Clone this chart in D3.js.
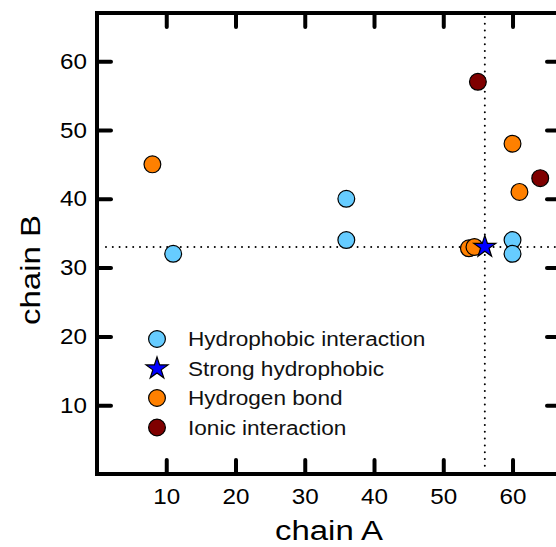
<!DOCTYPE html>
<html>
<head>
<meta charset="utf-8">
<script src="https://cdn.jsdelivr.net/npm/d3@7"></script>
<style>
  html, body { margin: 0; padding: 0; background: #fff; }
  svg { display: block; font-family: "Liberation Sans", Arial, Helvetica, sans-serif; }
</style>
</head>
<body>
<div id="chart"></div>
<script>
// values
const hydrophobicA = [11, 36, 36, 60, 60];
const hydrophobicB = [32, 40, 34, 34, 32];
const hbondA = [8, 53.7, 54.5, 60, 61];
const hbondB = [45, 32.8, 33, 48, 41];
const ionicA = [55, 64];
const ionicB = [57, 43];
const strongA = [56];
const strongB = [33];
const refLineA = 56;
const refLineB = 33;
const xTicks = [10, 20, 30, 40, 50, 60];
const yTicks = [10, 20, 30, 40, 50, 60];

const series = [
  { label: "Hydrophobic interaction", a: hydrophobicA, b: hydrophobicB, color: "#66ccff", shape: "circle" },
  { label: "Hydrogen bond", a: hbondA, b: hbondB, color: "#ff8000", shape: "circle" },
  { label: "Ionic interaction", a: ionicA, b: ionicB, color: "#7f0000", shape: "circle" },
  { label: "Strong hydrophobic", a: strongA, b: strongB, color: "#0000ff", shape: "star" }
];
const legendOrder = ["Hydrophobic interaction", "Strong hydrophobic", "Hydrogen bond", "Ionic interaction"];

const W = 556, H = 547;
const margin = { top: 13, left: 97 };
const plotW = 464, plotH = 461;

const svg = d3.select("#chart").append("svg").attr("width", W).attr("height", H);

const x = d3.scaleLinear().domain([0, 67]).range([margin.left, margin.left + plotW]);
const y = d3.scaleLinear().domain([0, 67]).range([margin.top + plotH, margin.top]);

// stretch text a bit wider than the font, like the original renderer
function widen(sel, k) {
  sel.each(function () {
    const len = this.getComputedTextLength();
    d3.select(this).attr("textLength", len * k).attr("lengthAdjust", "spacingAndGlyphs");
  });
}

// reference lines
const dots = svg.append("g").attr("stroke", "#000").attr("stroke-width", 2)
  .attr("stroke-linecap", "round").attr("stroke-dasharray", "0,6.8");
dots.append("line").attr("x1", x(refLineA)).attr("x2", x(refLineA))
  .attr("y1", y.range()[1] + 4).attr("y2", y.range()[0] - 3);
dots.append("line").attr("x1", x.range()[0] + 9).attr("x2", x.range()[1])
  .attr("y1", y(refLineB)).attr("y2", y(refLineB));

// axes
function styleAxis(g) {
  g.select(".domain").remove();
  g.selectAll(".tick line").attr("stroke", "#000").attr("stroke-width", 4).attr("stroke-linecap", "round");
  g.selectAll(".tick text").attr("fill", "#000").style("font-size", "22px");
}
svg.append("g").attr("transform", `translate(0,${y(0)})`)
  .call(d3.axisBottom(x).tickValues(xTicks).tickSizeInner(-14).tickSizeOuter(0).tickPadding(14))
  .call(styleAxis)
  .call(g => widen(g.selectAll(".tick text"), 1.1));
svg.append("g").attr("transform", `translate(${x(0)},0)`)
  .call(d3.axisLeft(y).tickValues(yTicks).tickSizeInner(-14).tickSizeOuter(0).tickPadding(10))
  .call(styleAxis)
  .call(g => widen(g.selectAll(".tick text"), 1.1));
svg.append("g").attr("transform", `translate(0,${y(67)})`)
  .call(d3.axisTop(x).tickValues(xTicks).tickSizeInner(-14).tickSizeOuter(0).tickFormat(""))
  .call(styleAxis);
svg.append("g").attr("transform", `translate(${x(67)},0)`)
  .call(d3.axisRight(y).tickValues(yTicks).tickSizeInner(-14).tickSizeOuter(0).tickFormat(""))
  .call(styleAxis);

// frame
svg.append("rect").attr("x", x(0)).attr("y", y(67)).attr("width", x(67) - x(0)).attr("height", y(0) - y(67))
  .attr("fill", "none").attr("stroke", "#000").attr("stroke-width", 4);

// marks
const star = d3.symbol().type(d3.symbolStar).size(150);
function drawMark(g, shape, color) {
  if (shape === "star") {
    g.append("path").attr("d", star).attr("fill", color).attr("stroke", "#000").attr("stroke-width", 1.2);
  } else {
    g.append("circle").attr("r", 8.4).attr("fill", color).attr("stroke", "#000").attr("stroke-width", 1.2);
  }
}
series.forEach(s => {
  s.a.forEach((a, i) => {
    const g = svg.append("g").attr("transform", `translate(${x(a)},${y(s.b[i])})`);
    drawMark(g, s.shape, s.color);
  });
});

// legend
const leg = svg.append("g").attr("transform", "translate(157,339)");
legendOrder.forEach((name, i) => {
  const s = series.find(d => d.label === name);
  const row = leg.append("g").attr("transform", `translate(0,${i * 29.5})`);
  drawMark(row, s.shape, s.color);
  row.append("text").attr("x", 31).attr("dy", "0.36em").style("font-size", "20px").attr("fill", "#111")
    .text(name).call(t => widen(t, 1.13));
});

// axis titles
svg.append("text").attr("x", (x(0) + x(67)) / 2).attr("y", 540).attr("text-anchor", "middle")
  .style("font-size", "27px").text("chain A").call(t => widen(t, 1.22));
svg.append("text").attr("transform", `translate(40,${270}) rotate(-90)`).attr("text-anchor", "middle")
  .style("font-size", "27px").text("chain B").call(t => widen(t, 1.22));
</script>
</body>
</html>
